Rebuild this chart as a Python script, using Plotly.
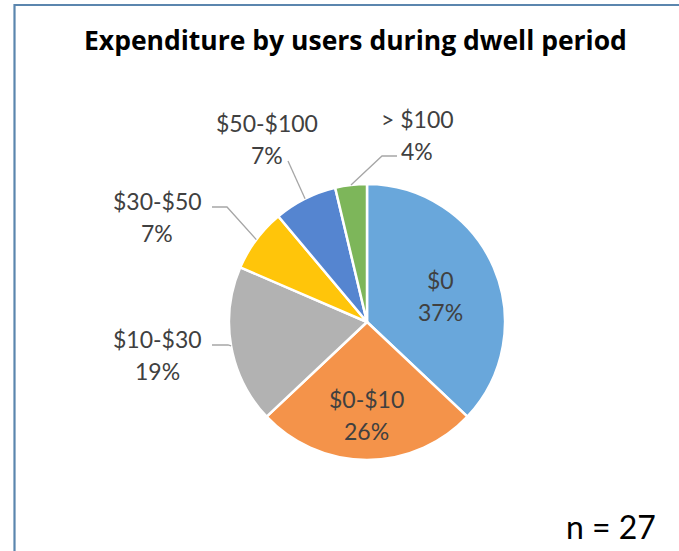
import math
import plotly.graph_objects as go

# ---- data ----
categories = ["$0", "$0-$10", "$10-$30", "$30-$50", "$50-$100", "> $100"]
counts = [10, 7, 5, 2, 2, 1]
colors = ["#69A7DB", "#F4934A", "#B2B2B2", "#FFC50A", "#5585D0", "#7DB65A"]
title_text = "Expenditure by users during dwell period"
n_text = "n = 27"

# ---- layout constants (pixels) ----
W, H = 679, 551
CX, CY, R = 367, 322, 138
LINE_PITCH = 32
# centre of first text line of each label
label_pos = [(440, 280), (366, 399), (157, 339), (157, 201), (267, 123), (417, 119)]
# leader line extra points (pixels) after the slice edge point, None = no leader
leader_pts = [None, None, [(228, 345), (212, 345)], [(227, 207), (212, 207)],
              [(288, 161)], [(382, 156), (397, 156)]]


def px(x):
    return x / W


def py(y):
    return 1 - y / H


total = sum(counts)
pcts = [round(100 * c / total) for c in counts]

fig = go.Figure(go.Pie(
    labels=categories,
    values=counts,
    sort=False,
    direction="clockwise",
    rotation=0,
    textinfo="none",
    hoverinfo="label+percent",
    marker=dict(colors=colors, line=dict(color="white", width=2.5)),
    domain=dict(x=[px(CX - R), px(CX + R)], y=[py(CY + R), py(CY - R)]),
    showlegend=False,
))

annotations = []
shapes = []
cum = 0
for i, (cat, c, p) in enumerate(zip(categories, counts, pcts)):
    mid = (cum + c / 2) / total * 2 * math.pi
    cum += c
    lx, ly = label_pos[i]
    for j, t in enumerate([cat, f"{p}%"]):
        annotations.append(dict(
            x=px(lx), y=py(ly + j * LINE_PITCH), xref="paper", yref="paper",
            text=t, showarrow=False, xanchor="center", yanchor="middle",
            font=dict(family="Lato", size=23, color="#404040")))
    if leader_pts[i]:
        ex = CX + R * math.sin(mid)
        ey = CY - R * math.cos(mid)
        pts = [(ex, ey)] + leader_pts[i]
        path = "M " + " L ".join(f"{px(a):.5f},{py(b):.5f}" for a, b in pts)
        shapes.append(dict(type="path", xref="paper", yref="paper", path=path,
                           line=dict(color="#A6A6A6", width=1.3)))

# title
annotations.append(dict(x=px(355), y=py(40), xref="paper", yref="paper",
                        text=f"<b>{title_text}</b>", showarrow=False,
                        xanchor="center", yanchor="middle",
                        font=dict(family="Open Sans", size=26.5, color="black")))
# n label
annotations.append(dict(x=px(611), y=py(526), xref="paper", yref="paper",
                        text=n_text, showarrow=False, xanchor="center", yanchor="middle",
                        font=dict(family="Lato", size=32, color="black")))

# chart border (left and top)
shapes.append(dict(type="path", xref="paper", yref="paper",
                   path=f"M {px(14.5)},0 L {px(14.5)},{py(5)} L 1,{py(5)}",
                   line=dict(color="#5B86AE", width=2.2)))

fig.update_layout(
    width=W, height=H, margin=dict(l=0, r=0, t=0, b=0),
    paper_bgcolor="white", plot_bgcolor="white",
    annotations=annotations, shapes=shapes,
)

fig.write_html("out.html")
